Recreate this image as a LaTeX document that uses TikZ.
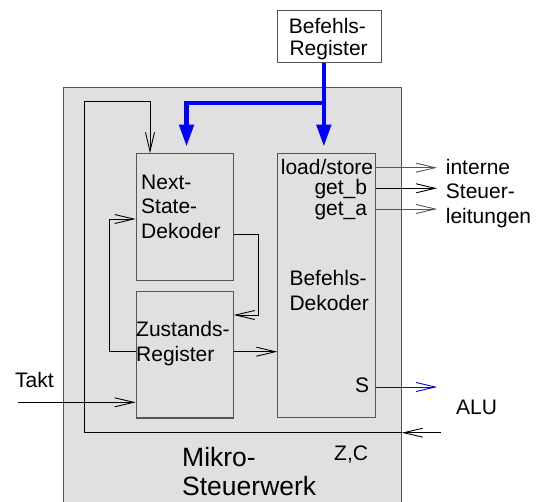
\documentclass[tikz,border=0pt]{standalone}
\usepackage{fontspec}
\setmainfont{Liberation Sans}
\usetikzlibrary{arrows.meta,calc}
\definecolor{boxfill}{HTML}{E0E0E0}
\definecolor{edge}{HTML}{555555}
\begin{document}
\begin{tikzpicture}[x=1pt,y=-1pt,
  txt/.style={inner sep=0pt, anchor=base west, font=\fontsize{21}{24.5}\selectfont},
  blk/.style={draw=edge, line width=1.1pt, inner sep=0pt, anchor=north west},
  arr/.style={-{Straight Barb[length=19pt,width=9pt]}, line width=0.9pt},
  bus/.style={draw=blue, line width=4.5pt, -{Triangle[length=22pt,width=14pt]}}]
\useasboundingbox (0,0) rectangle (538,501);
% outer box
\node[blk, fill=boxfill, minimum width=337.7pt, minimum height=425pt] (mw) at (63,87) {};
% boxes
\node[blk, fill=white, minimum width=103.4pt, minimum height=51.7pt] (br) at (277.3,10) {};
\node[blk, minimum width=97pt, minimum height=126.7pt] (nsd) at (135.7,153.3) {};
\node[blk, minimum width=97pt, minimum height=126.7pt] (zr) at (135.7,290.7) {};
\node[blk, minimum width=97.7pt, minimum height=264pt] (bd) at (277.3,153.3) {};
% blue bus
\coordinate (bt) at ([xshift=-5.7pt]br.south);
\coordinate (j) at ($(bt)+(0,40)$);
\draw[bus, shorten >=6.6pt] (bt) -- (bt |- bd.north);
\draw[bus, shorten >=6.6pt] (j) -| ([xshift=1.8pt]nsd.north);
% feedback loop from ALU flags
\coordinate (zc) at (440.7,432.7);
\draw[arr] (zc) -- (zc -| mw.east);
\draw[arr] (zc -| mw.east) -- (84,432.7) -- (84,101.7) -| ($(nsd.north west)+(14.3,0)$);
% Zustands -> Next-State
\draw[arr] ($(zr.north west)+(0,61)$) -- ++(-26.4,0) |- ($(nsd.north west)+(0,65.7)$);
% Next-State -> Zustands
\draw[arr] ($(nsd.north east)+(0,81)$) -- ++(24.6,0) |- ($(zr.north east)+(0,24.3)$);
% Zustands -> Befehls-Dekoder
\draw[arr] ($(zr.north east)+(0,61)$) -- ($(bd.north west)+(0,198.4)$);
% Takt
\coordinate (takt) at (18,402.3);
\draw[arr] (takt) -- (takt -| zr.west);
% outputs
\draw[arr, draw=edge] ($(bd.north east)+(0,14.4)$) -- ++(61,0);
\draw[arr] ($(bd.north east)+(0,35)$) -- ++(61,0);
\draw[arr, draw=edge] ($(bd.north east)+(0,55.7)$) -- ++(61,0);
\draw[arr, draw=blue] ($(bd.north east)+(0,233.7)$) -- ++(61,0);
% texts
\node[txt] (tbr) at (288.7,33.3) {\vtop{\baselineskip=21.7pt\hbox{Befehls-}\hbox{\kern0.6pt Register}}};
\node[txt] (tnsd) at (141,189) {\vtop{\baselineskip=24.6pt\hbox{Next-}\hbox{State-}\hbox{Dekoder}}};
\node[txt] (tzr) at (136,336) {\vtop{\baselineskip=25.5pt\hbox{Zustands-}\hbox{Register}}};
\node[txt] (tbd) at (289.3,285.7) {\vtop{\baselineskip=25pt\hbox{Befehls-}\hbox{Dekoder}}};
\node[txt] (tls) at (280.7,174.3) {load/store};
\node[txt, anchor=base east] (tgb) at (367.3,194.3) {get\_b};
\node[txt, anchor=base east] (tga) at (367.3,215) {get\_a};
\node[txt] (tint) at (445.7,174.3) {\vtop{\baselineskip=24.5pt\hbox{interne}\hbox{Steuer-}\hbox{leitungen}}};
\node[txt] (ttakt) at (15,387.3) {Takt};
\node[txt] (ts) at (355,392.7) {S};
\node[txt] (talu) at (456,414) {ALU};
\node[txt] (tzc) at (334,460) {Z,C};
\node[txt, font=\fontsize{26.5}{29}\selectfont] (tmw) at (182,466) {\vtop{\baselineskip=29pt\hbox{Mikro-}\hbox{Steuerwerk}}};
\end{tikzpicture}
\end{document}
